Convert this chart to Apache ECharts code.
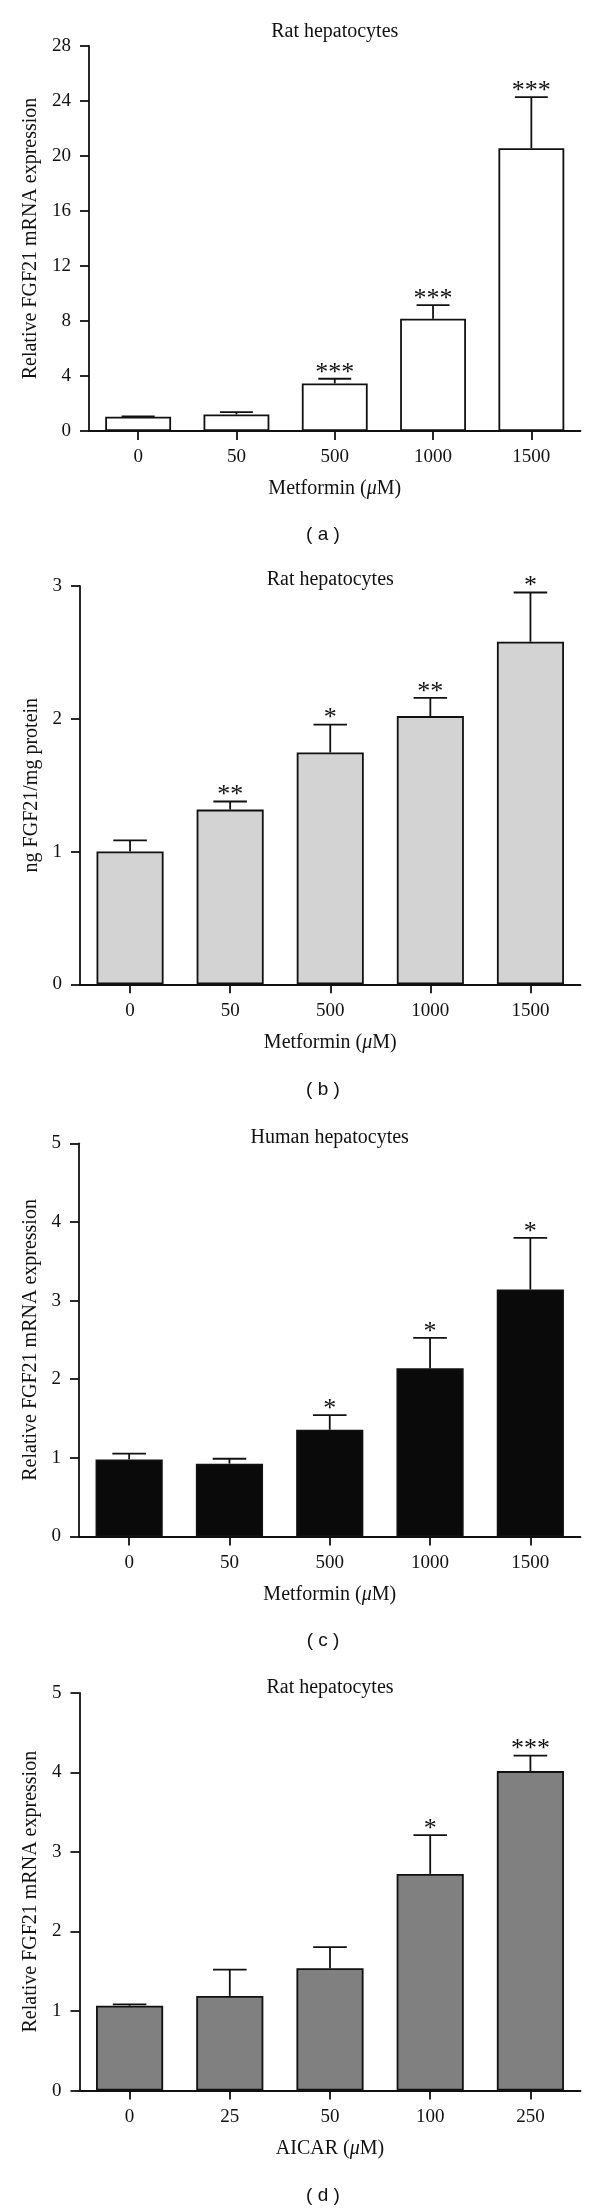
<!DOCTYPE html>
<html><head><meta charset="utf-8">
<script src="https://cdn.jsdelivr.net/npm/echarts@6/dist/echarts.min.js"></script>
<style>html,body{margin:0;padding:0;background:#fff;}#c{width:600px;height:2211px;}</style>
</head><body><div id="c"></div>
<script>
// ---- data ----
const catsMetformin = ['0', '50', '500', '1000', '1500'];
const catsAicar = ['0', '25', '50', '100', '250'];

const aMean = [1.04, 1.20, 3.46, 8.17, 20.56];
const aSem = [0.02, 0.18, 0.34, 0.99, 3.72];
const aStars = ['', '', '***', '***', '***'];

const bMean = [1.00, 1.316, 1.746, 2.02, 2.58];
const bSem = [0.084, 0.061, 0.21, 0.138, 0.371];
const bStars = ['', '**', '*', '**', '*'];

const cMean = [0.98, 0.926, 1.357, 2.141, 3.14];
const cSem = [0.073, 0.063, 0.186, 0.386, 0.658];
const cStars = ['', '', '*', '*', '*'];

const dMean = [1.067, 1.19, 1.538, 2.724, 4.016];
const dSem = [0.018, 0.33, 0.266, 0.486, 0.194];
const dStars = ['', '', '', '*', '***'];

const yMaxA = 28, yStepA = 4;
const yMaxB = 3, yStepB = 1;
const yMaxC = 5, yStepC = 1;
const yMaxD = 5, yStepD = 1;

const titles = ['Rat hepatocytes', 'Rat hepatocytes', 'Human hepatocytes', 'Rat hepatocytes'];
const yNames = ['Relative FGF21 mRNA expression', 'ng FGF21/mg protein', 'Relative FGF21 mRNA expression', 'Relative FGF21 mRNA expression'];
const xDrugs = ['Metformin', 'Metformin', 'Metformin', 'AICAR'];
const captions = ['( a )', '( b )', '( c )', '( d )'];

// ---- layout / style ----
const SERIF = '"Liberation Serif", "DejaVu Serif", serif';
const SANS = '"Liberation Sans", "DejaVu Sans", sans-serif';
const INK = '#111111';
const RIGHT = 580.5;

const panels = [
  {cats: catsMetformin, mean: aMean, sem: aSem, stars: aStars, max: yMaxA, step: yStepA, color: '#ffffff',
   left: 89, top: 46, height: 385, yGap: 45, titleY: 31.5, capY: 535},
  {cats: catsMetformin, mean: bMean, sem: bSem, stars: bStars, max: yMaxB, step: yStepB, color: '#d3d3d3',
   left: 80, top: 586, height: 398.3, yGap: 35, titleY: 580, capY: 1090},
  {cats: catsMetformin, mean: cMean, sem: cSem, stars: cStars, max: yMaxC, step: yStepC, color: '#0a0a0a',
   left: 79, top: 1143.3, height: 393.2, yGap: 35, titleY: 1137.5, capY: 1641},
  {cats: catsAicar, mean: dMean, sem: dSem, stars: dStars, max: yMaxD, step: yStepD, color: '#808080',
   left: 79.5, top: 1692.8, height: 397.8, yGap: 35, titleY: 1687.3, capY: 2196}
];

const grid = [], xAxis = [], yAxis = [], series = [], title = [];
panels.forEach((p, k) => {
  grid.push({left: p.left, top: p.top, width: RIGHT - p.left, height: p.height, containLabel: false, outerBoundsMode: 'none'});
  xAxis.push({
    type: 'category', gridIndex: k, data: p.cats,
    axisLine: {show: true, lineStyle: {color: INK, width: 1.8}},
    axisTick: {show: true, alignWithLabel: true, length: 9, lineStyle: {color: INK, width: 1.8}},
    axisLabel: {margin: 17, color: INK, fontFamily: SERIF, fontSize: 19},
    splitLine: {show: false},
    name: '{n|' + xDrugs[k] + ' (}{i|μ}{n|M)}',
    nameLocation: 'middle', nameGap: 48,
    nameTextStyle: {color: INK, fontFamily: SERIF, fontSize: 20,
      rich: {n: {fontFamily: SERIF, fontSize: 20, color: INK},
             i: {fontFamily: SERIF, fontSize: 20, color: INK, fontStyle: 'italic'}}}
  });
  yAxis.push({
    type: 'value', gridIndex: k, min: 0, max: p.max, interval: p.step,
    axisLine: {show: true, lineStyle: {color: INK, width: 1.8}},
    axisTick: {show: true, length: 9, lineStyle: {color: INK, width: 1.8}},
    axisLabel: {margin: 18, color: INK, fontFamily: SERIF, fontSize: 19},
    splitLine: {show: false},
    name: yNames[k], nameLocation: 'middle', nameRotate: 90, nameGap: p.yGap,
    nameTextStyle: {color: INK, fontFamily: SERIF, fontSize: 20}
  });
  series.push({
    type: 'bar', xAxisIndex: k, yAxisIndex: k, data: p.mean, barWidth: '67%',
    itemStyle: {color: p.color, borderColor: INK, borderWidth: 1.8},
    silent: true, animation: false
  });
  const stars = p.stars;
  series.push({
    type: 'custom', xAxisIndex: k, yAxisIndex: k, animation: false, silent: true,
    data: p.mean.map((m, i) => [i, m, m + p.sem[i]]),
    encode: {x: 0, y: [1, 2]},
    renderItem: (params, api) => {
      const i = params.dataIndex;
      const base = api.coord([api.value(0), api.value(1)]);
      const tip = api.coord([api.value(0), api.value(2)]);
      const bw = api.size([1, 0])[0] * 0.67;
      const cap = bw * 0.5;
      const st = {stroke: INK, lineWidth: 1.8};
      const children = [
        {type: 'line', shape: {x1: base[0], y1: base[1], x2: tip[0], y2: tip[1]}, style: st},
        {type: 'line', shape: {x1: tip[0] - cap / 2, y1: tip[1], x2: tip[0] + cap / 2, y2: tip[1]}, style: st}
      ];
      if (stars[i]) {
        children.push({type: 'text', x: tip[0], y: tip[1] + 7,
          style: {text: stars[i], fontFamily: SERIF, fontSize: 26, fill: INK,
                  align: 'center', verticalAlign: 'bottom'}});
      }
      return {type: 'group', children: children};
    }
  });
  title.push({
    text: titles[k], left: (p.left + RIGHT) / 2, top: p.titleY - 10, textAlign: 'center', padding: 0,
    textStyle: {fontFamily: SERIF, fontSize: 20, fontWeight: 'normal', color: INK}
  });
  title.push({
    text: captions[k], left: 323, top: p.capY - 10, textAlign: 'center', padding: 0,
    textStyle: {fontFamily: SANS, fontSize: 19, fontWeight: 'normal', color: INK}
  });
});

const chart = echarts.init(document.getElementById('c'), null, {renderer: 'canvas'});
chart.setOption({backgroundColor: '#ffffff', animation: false, title, grid, xAxis, yAxis, series});
</script>
</body></html>
